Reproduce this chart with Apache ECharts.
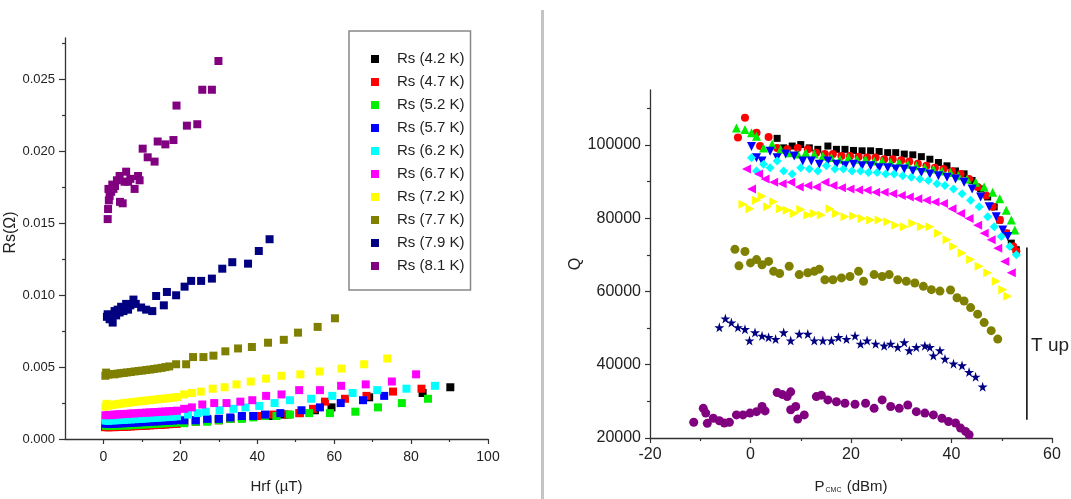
<!DOCTYPE html>
<html><head><meta charset="utf-8">
<script src="https://cdn.jsdelivr.net/npm/echarts@6/dist/echarts.min.js"></script>
<style>html,body{margin:0;padding:0;background:#fff}#c{width:1071px;height:499px}</style>
</head><body><div id="c"></div>
<script>
// ---------- Left panel: Rs vs Hrf ----------
const rsNames = ['Rs (4.2 K)','Rs (4.7 K)','Rs (5.2 K)','Rs (5.7 K)','Rs (6.2 K)','Rs (6.7 K)','Rs (7.2 K)','Rs (7.7 K)','Rs (7.9 K)','Rs (8.1 K)'];
const colors = ['#000000','#ff0000','#00ee00','#0000ff','#00ffff','#ff00ff','#ffff00','#808000','#000080','#800080'];

const rs42 = [[0.4,0.00085],[1.2,0.00084],[2.0,0.00086],[2.8,0.00085],[3.6,0.00087],[4.4,0.00088],[5.2,0.00087],[6.0,0.00089],[7.0,0.00090],[8.0,0.00091],[9.0,0.00093],[10.0,0.00094],[11.0,0.00095],[12.0,0.00097],[13.0,0.00098],[14.0,0.00100],[15.0,0.00101],[16.0,0.00103],[17.0,0.00105],[18.0,0.00106],[19.0,0.00108],
  [21,0.0012],[24,0.0013],[27,0.0013],[30,0.0014],[33,0.0014],[36,0.0015],[39,0.0016],[43,0.0016],[47,0.0017],[51,0.0018],[55,0.0020],[59.3,0.0022],[69.1,0.0029],[83,0.0032],[90.2,0.0036]];
const rs47 = [[0.5,0.00082],[1.3,0.00081],[2.1,0.00083],[2.9,0.00082],[3.7,0.00084],[4.5,0.00085],[5.3,0.00084],[6.1,0.00086],[7.1,0.00087],[8.1,0.00089],[9.1,0.00090],[10.1,0.00092],[11.1,0.00093],[12.1,0.00095],[13.1,0.00096],[14.1,0.00098],[15.1,0.00099],[16.1,0.00101],[17.1,0.00103],[18.1,0.00104],[19.1,0.00106],
  [21,0.0012],[24,0.0012],[27,0.0013],[30,0.0013],[33,0.0014],[36,0.0015],[40,0.0016],[44,0.0017],[48,0.0017],[51,0.0018],[54.5,0.0021],[57.6,0.0026],[62.8,0.0028],[68.4,0.0030],[75.3,0.0033],[82.7,0.0035]];
const rs52 = [[0.6,0.00092],[1.4,0.00090],[2.2,0.00091],[3.0,0.00093],[3.8,0.00092],[4.6,0.00094],[5.4,0.00095],[6.2,0.00094],[7.2,0.00096],[8.2,0.00098],[9.2,0.00099],[10.2,0.00101],[11.2,0.00102],[12.2,0.00104],[13.2,0.00105],[14.2,0.00107],[15.2,0.00108],[16.2,0.00110],[17.2,0.00112],[18.2,0.00113],[19.2,0.00115],
  [21,0.0011],[24,0.0012],[27,0.0012],[30,0.0013],[33,0.0014],[36,0.0014],[39,0.0015],[42,0.0016],[45,0.0016],[48.5,0.0017],[53.5,0.0018],[58.9,0.0018],[65.5,0.0019],[71.4,0.0022],[77.6,0.0025],[84.4,0.0028]];
const rs57 = [[0.5,0.00106],[1.3,0.00104],[2.1,0.00107],[2.9,0.00106],[3.7,0.00108],[4.5,0.00109],[5.3,0.00110],[6.1,0.00111],[7.1,0.00112],[8.1,0.00114],[9.1,0.00115],[10.1,0.00117],[11.1,0.00118],[12.1,0.00120],[13.1,0.00121],[14.1,0.00123],[15.1,0.00124],[16.1,0.00126],[17.1,0.00127],[18.1,0.00129],[19.1,0.00131],
  [21,0.0013],[24,0.0013],[27,0.0014],[30,0.0014],[33,0.0015],[36,0.0016],[39,0.0016],[42,0.0017],[46,0.0018],[51.5,0.0020],[56.3,0.0022],[61.7,0.0025],[67.5,0.0027],[73,0.0030]];
const rs62 = [[0.5,0.00128],[1.3,0.00126],[2.1,0.00129],[2.9,0.00130],[3.7,0.00131],[4.5,0.00132],[5.3,0.00133],[6.1,0.00135],[7.1,0.00136],[8.1,0.00138],[9.1,0.00140],[10.1,0.00141],[11.1,0.00143],[12.1,0.00145],[13.1,0.00146],[14.1,0.00148],[15.1,0.00150],[16.1,0.00152],[17.1,0.00154],[18.1,0.00156],[19.1,0.00158],
  [22,0.0017],[24.5,0.0018],[26.6,0.0019],[30.2,0.0020],[33.8,0.0021],[36.9,0.0022],[40.5,0.0023],[44.5,0.0025],[48.5,0.0027],[54,0.0028],[59.5,0.0030],[64.8,0.0032],[71.2,0.0034],[78.8,0.0035],[86.2,0.0037]];
const rs67 = [[0.5,0.00165],[1.3,0.00168],[2.1,0.00166],[2.9,0.00170],[3.7,0.00171],[4.5,0.00172],[5.3,0.00174],[6.1,0.00175],[7.1,0.00177],[8.1,0.00178],[9.1,0.00180],[10.1,0.00182],[11.1,0.00183],[12.1,0.00185],[13.1,0.00186],[14.1,0.00188],[15.1,0.00190],[16.1,0.00191],[17.1,0.00193],[18.1,0.00195],[19.1,0.00197],
  [21,0.0021],[23,0.0022],[25.7,0.0024],[28.8,0.0025],[32,0.0025],[35.6,0.0026],[38.7,0.0027],[42.3,0.0030],[46.3,0.0031],[50.9,0.0034],[56.3,0.0034],[61.8,0.0037],[68.2,0.0038],[75,0.0040],[81.3,0.0045]];
const rs72 = [[0.5,0.00225],[0.8,0.00245],[1.3,0.00232],[2.1,0.00236],[2.9,0.00240],[3.7,0.00243],[4.5,0.00246],[5.3,0.00249],[6.1,0.00252],[7.1,0.00255],[8.1,0.00258],[9.1,0.00261],[10.1,0.00264],[11.1,0.00267],[12.1,0.00270],[13.1,0.00273],[14.1,0.00276],[15.1,0.00279],[16.1,0.00282],[17.1,0.00285],[18.1,0.00288],[19.1,0.00292],
  [21,0.0031],[23,0.0032],[25.3,0.0033],[28.4,0.0035],[31.5,0.0036],[34.6,0.0038],[38.3,0.0040],[42.3,0.0042],[46.3,0.0044],[51.2,0.0045],[56.2,0.0047],[61.9,0.0049],[67.8,0.0052],[73.8,0.0056]];
const rs77 = [[0.5,0.00440],[0.7,0.00462],[1.3,0.00448],[2.1,0.00452],[2.9,0.00450],[3.7,0.00455],[4.5,0.00458],[5.3,0.00460],[6.1,0.00463],[7.1,0.00466],[8.1,0.00470],[9.1,0.00473],[10.1,0.00476],[11.1,0.00480],[12.1,0.00483],[13.1,0.00487],[14.1,0.00491],[15.1,0.00495],[16.1,0.00500],[17.1,0.00505],
  [18.9,0.0052],[21.5,0.0052],[23.3,0.0057],[26,0.0057],[28.6,0.0058],[31.7,0.0061],[35,0.0063],[38.6,0.0064],[42.8,0.0067],[46.9,0.0069],[50.6,0.0074],[55.7,0.0078],[60.2,0.0084]];
const rs79 = [[0.9,0.0085],[1.1,0.00868],[1.6,0.00833],[2.4,0.0081],[2.9,0.0089],[3.3,0.0086],[3.7,0.0090],[4.2,0.0088],[4.6,0.0092],[5.2,0.0089],[5.9,0.0094],[6.4,0.0090],[7.0,0.0093],[7.8,0.0097],[8.4,0.0094],[9.8,0.00915],[11.1,0.0090],[12.7,0.0089],[13.7,0.00995],[15.7,0.0093],[16.5,0.01023],
  [18.9,0.0100],[21.1,0.0106],[22.8,0.0110],[25.4,0.0110],[28.2,0.01116],[30.9,0.01185],[33.5,0.0123],[37.6,0.0122],[40.4,0.01308],[43.2,0.0139]];
const rs81 = [[1.1,0.0153],[1.2,0.0160],[1.4,0.0166],[1.6,0.0169],[1.3,0.0174],[2.0,0.0172],[2.3,0.0177],[2.6,0.0174],[3.0,0.0176],[3.5,0.0180],[4.2,0.0183],[4.3,0.0165],[5.0,0.0164],[5.5,0.0179],[5.9,0.0186],[6.4,0.0179],[7.0,0.0181],[8.1,0.0174],[9.0,0.0183],[9.4,0.0180],
  [10.2,0.0202],[11.5,0.0196],[13.3,0.0193],[14.1,0.0207],[16.1,0.0205],[18.2,0.0208],[19.0,0.0232],[21.7,0.0218],[24.4,0.0219],[25.7,0.0243],[28.2,0.0243],[29.9,0.0263]];
const rsData = [rs42,rs47,rs52,rs57,rs62,rs67,rs72,rs77,rs79,rs81];

const leftXLabels = [0,20,40,60,80,100];
const leftXMinor = [10,30,50,70,90];
const leftYLabels = [0,0.005,0.010,0.015,0.020,0.025];
const leftYMinor = [0.0025,0.0075,0.0125,0.0175,0.0225,0.0275];

// ---------- Right panel: Q vs P_CMC ----------
const qNames = ['Q (4.2 K)','Q (4.7 K)','Q (5.2 K)','Q (5.7 K)','Q (6.2 K)','Q (6.7 K)','Q (7.2 K)','Q (7.7 K)','Q (7.9 K)','Q (8.1 K)'];
const q42 = [[5.3,101800],[6.6,99200],[8.3,99700],[10.0,100100],[11.7,99200],[13.4,98800],[15.4,99700],[17.1,98800],[18.8,98800],[20.5,98500],[22.2,98400],[23.9,98400],[25.6,98200],[27.3,97900],[28.9,97900],[30.6,97500],[32.3,97300],[34.0,96800],[35.7,96100],[37.4,95200],[39.1,94300],[40.8,92900],[42.5,92100],[44.1,90300],[45.8,88000],[47.2,85800],[48.5,83100],[49.6,79500],[50.9,75900],[51.9,73200],[52.9,71400]];
const q47 = [[-1.1,107400],[-2.5,102000],[1.2,103300],[1.9,99700],[3.6,102200],[5.3,99200],[7.3,98800],[9.4,99200],[11.4,98800],[13.1,97900],[14.8,97500],[16.4,97500],[18.1,97000],[19.8,97000],[21.5,96800],[23.2,96600],[24.9,96600],[26.6,96100],[28.3,96100],[30.0,95800],[31.6,95500],[33.3,94900],[35.0,94300],[36.7,93800],[38.4,93400],[40.1,92800],[41.8,92100],[43.5,90700],[45.2,88500],[46.9,86200],[48.2,83100],[49.6,79500],[50.9,75900],[52.3,72300],[52.9,71000]];
const q52 = [[-2.8,104600],[-1.1,104200],[0.2,103300],[1.2,102400],[2.6,99200],[4.3,100200],[6.0,98800],[7.7,97900],[9.4,97500],[11.0,97900],[12.7,97500],[14.4,97000],[16.1,96600],[17.8,96100],[19.5,96600],[21.2,96100],[22.9,96100],[24.6,95600],[26.2,95600],[27.9,95200],[29.6,95200],[31.3,94700],[33.0,94300],[34.7,93800],[36.4,93400],[38.1,92900],[39.8,92500],[41.4,91600],[43.1,90700],[44.8,89800],[46.5,88500],[48.2,87100],[49.6,85300],[50.9,82200],[51.9,79500],[52.6,76800]];
const q57 = [[0.2,99600],[1.2,96500],[2.3,95600],[3.9,98300],[5.3,96500],[7.0,97500],[8.7,97000],[10.4,95600],[12.1,95600],[13.7,94700],[15.4,95600],[17.1,94700],[18.8,94300],[20.5,94700],[22.2,94300],[23.9,94300],[25.6,93800],[27.3,93800],[28.9,93400],[30.6,93400],[32.3,92900],[34.0,92500],[35.7,92100],[37.4,91600],[39.1,91200],[40.8,90700],[42.5,89800],[44.1,88000],[45.8,85800],[47.5,83100],[48.9,80400],[50.2,76800],[51.2,75000]];
const q62 = [[0.2,96500],[1.2,92900],[2.6,94700],[3.9,93800],[5.3,95600],[6.6,92900],[8.3,92100],[10.0,93800],[11.7,93400],[13.4,92900],[15.1,94300],[16.8,93400],[18.5,93400],[20.2,92900],[21.9,92900],[23.5,92500],[25.2,92500],[26.9,92100],[28.6,92100],[30.3,91600],[32.0,91200],[33.7,90700],[35.4,90300],[37.1,89400],[38.7,88900],[40.4,88000],[42.1,86700],[43.8,84900],[45.5,83100],[47.2,80400],[48.5,77700],[49.9,75000],[51.6,72300],[52.9,70000]];
const q67 = [[-0.8,93400],[0.2,88000],[1.6,92100],[2.9,90700],[4.6,89800],[6.3,89400],[8.0,89800],[9.7,88500],[11.4,88900],[13.1,88500],[14.8,89800],[16.4,88900],[18.1,88300],[19.8,88000],[21.5,87700],[23.2,87600],[24.9,87100],[26.6,87100],[28.3,86700],[30.0,86200],[31.6,85800],[33.3,85300],[35.0,84900],[36.7,84400],[38.4,84000],[40.1,82600],[41.8,81300],[43.5,79900],[45.2,78100],[46.5,75900],[47.9,74100],[49.2,71800],[50.6,68200],[51.9,65100]];
const q72 = [[-1.5,83800],[-0.1,82600],[1.2,84900],[2.3,86000],[3.4,83100],[4.6,84500],[6.0,82600],[7.3,82200],[8.7,81300],[10.0,82400],[11.4,80900],[12.7,81300],[14.1,80900],[15.8,82600],[17.1,81300],[18.8,80400],[20.5,80600],[22.2,79900],[23.9,79500],[25.6,79500],[27.3,79000],[28.9,78100],[30.6,77700],[32.3,78600],[34.0,77700],[35.7,77700],[37.4,75900],[39.1,74100],[40.4,72300],[42.1,70500],[43.8,68700],[45.5,66900],[47.2,65100],[48.9,62800],[50.2,60500],[51.2,58700]];
const q77 = [[-3.1,71500],[-2.3,67000],[-1.1,70900],[0.0,67800],[1.2,68700],[2.3,67300],[3.6,68200],[4.6,65500],[5.8,64900],[7.7,66900],[9.7,64600],[11.4,65100],[12.7,65500],[13.7,66100],[14.8,63200],[16.4,63200],[18.1,63700],[19.8,64100],[21.5,65500],[22.5,62800],[24.6,64600],[26.2,64100],[27.6,64600],[29.3,63200],[31.0,62800],[32.7,62300],[34.4,61400],[36.0,60500],[37.7,60100],[39.8,60400],[41.1,58300],[42.5,57400],[43.8,55600],[45.2,53800],[46.5,51500],[47.9,49300],[49.2,47000]];
const q79 = [[-6.2,50200],[-5.0,52600],[-3.8,51500],[-2.5,50200],[-1.1,49700],[-0.2,46600],[0.9,48800],[2.3,47900],[3.6,47500],[5.0,47000],[6.6,48800],[8.0,46600],[9.7,48400],[11.4,48400],[12.7,46600],[14.4,46600],[16.1,46600],[17.5,47500],[19.1,47000],[20.8,47900],[21.9,45700],[23.2,46600],[24.9,45700],[26.6,45200],[27.9,45700],[29.3,44800],[30.6,46100],[31.6,43900],[33.0,44800],[34.7,45200],[35.7,44800],[36.4,42500],[37.7,43900],[38.7,41600],[40.4,40300],[42.1,39800],[43.5,38000],[44.8,36700],[46.2,34000]];
const q81 = [[-11.3,24300],[-9.4,28100],[-8.9,26800],[-8.6,24000],[-7.4,25400],[-6.2,24700],[-5.2,24100],[-4.2,24300],[-2.8,26300],[-1.5,26300],[-0.1,26800],[1.2,27200],[2.3,28600],[2.9,27400],[5.3,32400],[6.3,31900],[7.3,31300],[8.0,32600],[8.0,27700],[9.0,28600],[9.4,25200],[10.7,26300],[13.1,31300],[14.1,31700],[15.4,30400],[17.1,29900],[18.8,29500],[20.8,29200],[22.9,29500],[24.6,28100],[26.2,30400],[27.9,28600],[29.6,28100],[31.3,29000],[33.0,27200],[34.7,26800],[36.4,26300],[38.1,25400],[39.4,24500],[40.8,24100],[41.8,22700],[42.8,21800],[43.5,20900]];
const qData = [q42,q47,q52,q57,q62,q67,q72,q77,q79,q81];

const rightXLabels = [-20,0,20,40,60];
const rightXMinor = [-10,10,30,50];
const rightYLabels = [20000,40000,60000,80000,100000];
const rightYMinor = [30000,50000,70000,90000,110000];
const tUpLine = [[55,72000],[55,25000]];

const STAR = 'path://M50,0 L61,35 L98,35 L68,57 L79,91 L50,70 L21,91 L32,57 L2,35 L39,35 Z';
const qSymbols = [
  {s:'rect',size:7,rot:0},{s:'circle',size:8,rot:0},{s:'triangle',size:9,rot:0},{s:'triangle',size:9,rot:180},
  {s:'diamond',size:9,rot:0},{s:'triangle',size:9,rot:90},{s:'triangle',size:9,rot:-90},{s:'circle',size:9,rot:0},
  {s:STAR,size:10,rot:0},{s:'circle',size:9,rot:0}];

const FONT = 'Liberation Sans, Arial, sans-serif';
const TXT = '#222';
const axisLine = {show:true, onZero:false, lineStyle:{color:'#333', width:1.3}};

function mainAxis(extra){ return Object.assign({type:'value', splitLine:{show:false}, axisLine:axisLine}, extra); }
function minorAxis(gridIndex,pos,min,max,vals,len){
  return {type:'value', gridIndex, position:pos, offset:0, min, max, axisLine:{show:false, onZero:false}, splitLine:{show:false},
    axisLabel:{show:false}, axisTick:{show:true, inside:false, length:len, lineStyle:{color:'#333',width:1.2}, customValues:vals}};
}

const series = [];
rsData.forEach((d,i)=>{
  series.push({name:rsNames[i], type:'scatter', xAxisIndex:0, yAxisIndex:0, data:d,
    symbol:'rect', symbolSize:8, itemStyle:{color:colors[i], opacity:1}});
});
qData.forEach((d,i)=>{
  series.push({name:qNames[i], type:'scatter', xAxisIndex:2, yAxisIndex:2, data:d,
    symbol:qSymbols[i].s, symbolSize:qSymbols[i].size, symbolRotate:qSymbols[i].rot, itemStyle:{color:colors[i], opacity:1}});
});
series.push({name:'T up', type:'line', xAxisIndex:2, yAxisIndex:2, data:tUpLine, showSymbol:false, symbol:'none',
  lineStyle:{color:'#111', width:1.6}, silent:true});

const option = {
  animation:false,
  backgroundColor:'#fff',
  textStyle:{fontFamily:FONT},
  grid:[
    {left:65, top:38, right:583, bottom:59},
    {left:650, top:90, right:19, bottom:59}
  ],
  legend:{
    data:rsNames, orient:'vertical', left:349, top:31,
    padding:[20,6,16,22], itemGap:7, itemWidth:8, itemHeight:8,
    icon:'rect', borderColor:'#888', borderWidth:1.5,
    textStyle:{fontFamily:FONT, fontSize:15, color:TXT, lineHeight:16, padding:[0,0,0,13]}
  },
  xAxis:[
    mainAxis({gridIndex:0, position:'bottom', min:-10, max:100,
      name:'Hrf (\u00b5T)', nameLocation:'middle', nameGap:40,
      nameTextStyle:{fontFamily:FONT, fontSize:15, color:TXT},
      axisTick:{show:true, length:5, lineStyle:{color:'#333',width:1.2}, customValues:leftXLabels},
      axisLabel:{fontFamily:FONT, fontSize:14, color:TXT, margin:11, customValues:leftXLabels}}),
    minorAxis(0,'bottom',-10,100,leftXMinor,3),
    mainAxis({gridIndex:1, position:'bottom', min:-20, max:60,
      name:'{p|P}{s|CMC}{p| (dBm)}', nameLocation:'middle', nameGap:38,
      nameTextStyle:{rich:{p:{fontFamily:FONT, fontSize:15, color:TXT, lineHeight:18, verticalAlign:'bottom'},
                           s:{fontFamily:FONT, fontSize:7, color:TXT, lineHeight:18, verticalAlign:'bottom', padding:[0,1,0,1]}}},
      axisTick:{show:true, length:5, lineStyle:{color:'#333',width:1.2}, customValues:rightXLabels},
      axisLabel:{fontFamily:FONT, fontSize:16, color:TXT, margin:9, customValues:rightXLabels}}),
    minorAxis(1,'bottom',-20,60,rightXMinor,3)
  ],
  yAxis:[
    mainAxis({gridIndex:0, position:'left', min:0, max:0.0279,
      name:'Rs(\u03a9)', nameLocation:'middle', nameGap:36,
      nameTextStyle:{fontFamily:FONT, fontSize:16, color:TXT, padding:[0,0,0,12]},
      axisTick:{show:true, length:6, lineStyle:{color:'#333',width:1.2}, customValues:leftYLabels},
      axisLabel:{fontFamily:FONT, fontSize:13, color:TXT, margin:10, customValues:leftYLabels,
        formatter:v=>v.toFixed(3)}}),
    minorAxis(0,'left',0,0.0279,leftYMinor,3),
    mainAxis({gridIndex:1, position:'left', min:20000, max:115000,
      name:'Q', nameLocation:'middle', nameGap:61,
      nameTextStyle:{fontFamily:FONT, fontSize:16, color:TXT},
      axisTick:{show:true, length:5, lineStyle:{color:'#333',width:1.2}, customValues:rightYLabels},
      axisLabel:{fontFamily:FONT, fontSize:16, color:TXT, margin:9, customValues:rightYLabels,
        formatter:v=>String(Math.round(v))}}),
    minorAxis(1,'left',20000,115000,rightYMinor,3)
  ],
  graphic:[
    {type:'rect', left:541, top:10, shape:{width:3, height:489}, style:{fill:'#c4c4c4'}, silent:true},
    {type:'text', left:1031, top:336, style:{text:'T up', font:'19px Liberation Sans, Arial, sans-serif', fill:'#222'}, silent:true}
  ],
  series
};

const chart = echarts.init(document.getElementById('c'), null, {renderer:'canvas'});
chart.setOption(option);
</script>
</body></html>
